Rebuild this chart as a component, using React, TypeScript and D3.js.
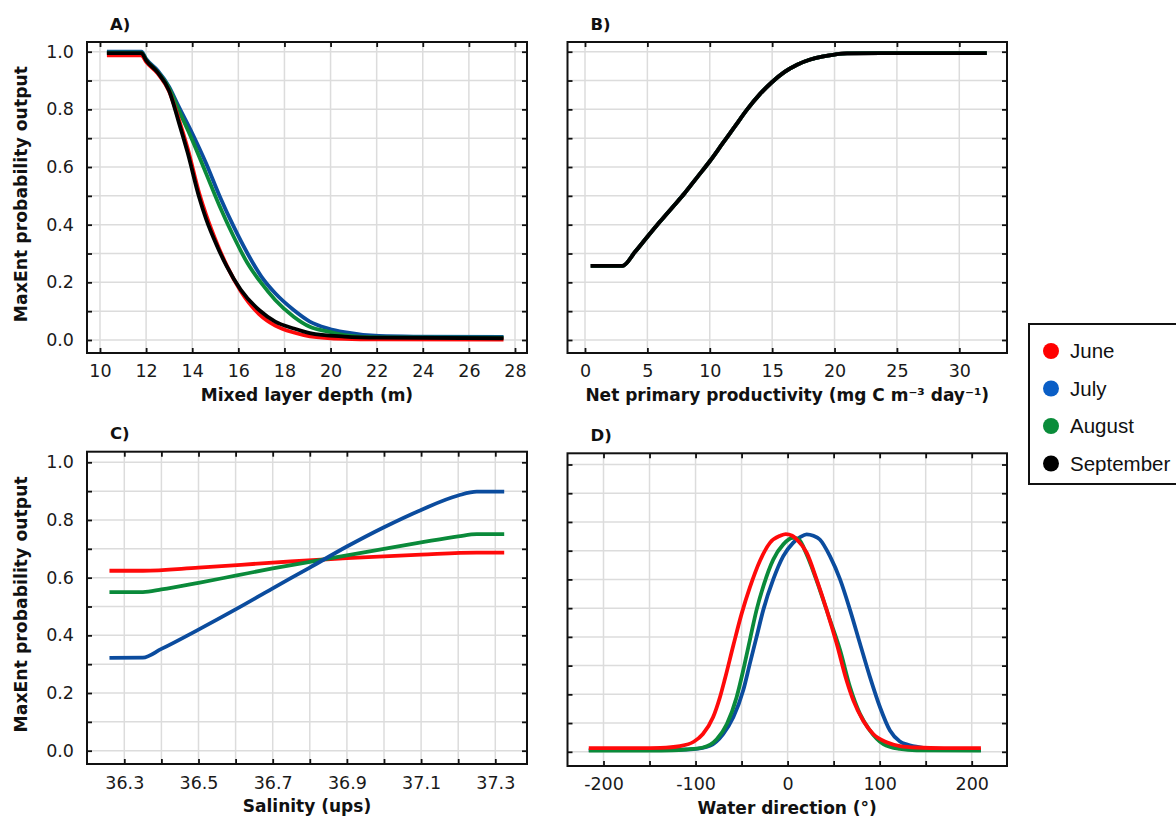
import React, { useEffect, useRef } from 'react'
import * as d3 from 'd3'

const months = ['June', 'July', 'August', 'September']
const lineColors = ['#ff0a0a', '#0b4c9e', '#0a8a3a', '#000000']
const legendColors = ['#ff0000', '#0a5ec6', '#0a8c3a', '#000000']

// A) mixed layer depth (m) -> probability
const mldJune = [[10.3, 0.987], [11.8, 0.987], [12.0, 0.965], [12.5, 0.925], [13.0, 0.862], [13.4, 0.77], [13.8, 0.665], [14.3, 0.51], [14.6, 0.435], [15.1, 0.33], [15.5, 0.258], [16.1, 0.17], [16.9, 0.09], [17.6, 0.05], [18.4, 0.026], [19.1, 0.013], [20.6, 0.004], [22.1, 0.002], [27.5, 0.001]]
const mldJuly = [[10.3, 1.0], [11.8, 1.0], [12.0, 0.975], [12.5, 0.935], [13.0, 0.878], [13.4, 0.812], [14.0, 0.717], [14.6, 0.613], [15.2, 0.497], [15.8, 0.393], [16.4, 0.3], [17.0, 0.22], [17.6, 0.162], [18.4, 0.104], [19.1, 0.064], [19.9, 0.04], [20.6, 0.027], [22.1, 0.014], [23.6, 0.012], [27.5, 0.011]]
const mldAugust = [[10.3, 0.997], [11.8, 0.997], [12.0, 0.972], [12.5, 0.93], [13.0, 0.873], [13.4, 0.8], [14.0, 0.694], [14.6, 0.578], [15.2, 0.462], [15.8, 0.358], [16.4, 0.266], [17.0, 0.197], [17.6, 0.139], [18.4, 0.081], [19.1, 0.046], [19.9, 0.029], [20.6, 0.017], [22.1, 0.009], [27.5, 0.008]]
const mldSeptember = [[10.3, 0.995], [11.8, 0.995], [12.0, 0.97], [12.5, 0.928], [13.0, 0.864], [13.4, 0.76], [13.8, 0.65], [14.3, 0.495], [14.6, 0.42], [15.1, 0.322], [15.5, 0.255], [16.1, 0.175], [16.9, 0.104], [17.6, 0.064], [18.4, 0.04], [19.1, 0.024], [20.6, 0.012], [22.1, 0.008], [27.5, 0.006]]

// B) net primary productivity, the four months lie on top of each other
const nppCurve = [[0.46, 0.257], [3.0, 0.257], [4, 0.305], [5, 0.358], [6, 0.41], [7, 0.46], [8, 0.51], [9, 0.565], [10, 0.62], [11, 0.68], [12, 0.74], [13, 0.8], [14, 0.852], [15, 0.895], [16, 0.93], [17, 0.955], [18, 0.972], [19, 0.983], [20, 0.99], [21, 0.994], [25, 0.995], [32.2, 0.995]]

// C) salinity (ups)
const salJune = [[36.26, 0.624], [36.35, 0.624], [36.5, 0.635], [36.7, 0.652], [36.9, 0.668], [37.1, 0.68], [37.25, 0.687], [37.324, 0.687]]
const salJuly = [[36.26, 0.322], [36.35, 0.323], [36.4, 0.353], [36.5, 0.42], [36.6, 0.49], [36.7, 0.563], [36.8, 0.635], [36.9, 0.708], [37.0, 0.775], [37.1, 0.835], [37.2, 0.885], [37.25, 0.898], [37.324, 0.898]]
const salAugust = [[36.26, 0.55], [36.35, 0.55], [36.4, 0.559], [36.5, 0.582], [36.6, 0.607], [36.7, 0.632], [36.8, 0.655], [36.9, 0.677], [37.0, 0.7], [37.1, 0.722], [37.2, 0.743], [37.25, 0.751], [37.324, 0.751]]

// D) water direction (degrees)
const dirJune = [[-216, 0.013], [-160, 0.013], [-138, 0.014], [-117, 0.02], [-102, 0.035], [-92, 0.062], [-81, 0.12], [-73.5, 0.19], [-68, 0.255], [-59, 0.37], [-50, 0.48], [-41, 0.572], [-30, 0.665], [-19, 0.728], [-8, 0.752], [-2, 0.758], [5, 0.752], [10, 0.739], [20.7, 0.693], [31.5, 0.6], [42.4, 0.494], [53.3, 0.377], [64, 0.249], [71.4, 0.179], [82, 0.109], [93, 0.062], [107.6, 0.033], [122, 0.02], [140, 0.015], [170, 0.013], [210, 0.013]]
const dirJuly = [[-216, 0.006], [-150, 0.006], [-120, 0.007], [-102.5, 0.009], [-84.4, 0.021], [-70, 0.062], [-59, 0.12], [-48.2, 0.214], [-41, 0.307], [-33.7, 0.4], [-26.4, 0.494], [-15.6, 0.6], [-4.7, 0.681], [6.2, 0.728], [14, 0.748], [20.7, 0.757], [28, 0.752], [35, 0.739], [46, 0.681], [57, 0.6], [67.8, 0.494], [78.6, 0.377], [89.5, 0.26], [100.4, 0.155], [111.2, 0.074], [122, 0.036], [130, 0.025], [147, 0.014], [170, 0.008], [210, 0.006]]
const dirAugust = [[-216, 0.004], [-150, 0.004], [-125, 0.005], [-110, 0.008], [-92, 0.015], [-77, 0.044], [-66, 0.097], [-55.4, 0.19], [-48.2, 0.284], [-41, 0.389], [-33.7, 0.494], [-26.4, 0.576], [-15.6, 0.669], [-4.7, 0.722], [6, 0.745], [12, 0.74], [20.7, 0.687], [35, 0.564], [46, 0.459], [57, 0.354], [67.8, 0.225], [78.6, 0.132], [89.5, 0.074], [104, 0.027], [122, 0.01], [140, 0.005], [210, 0.004]]

// ticks and labels
const probTicks = [0, 0.1, 0.2, 0.3, 0.4, 0.5, 0.6, 0.7, 0.8, 0.9, 1.0]
const probLabels = [0, 0.2, 0.4, 0.6, 0.8, 1.0]
const mldTicks = [10, 12, 14, 16, 18, 20, 22, 24, 26, 28]
const nppTicks = [0, 5, 10, 15, 20, 25, 30]
const salTicks = [36.3, 36.4, 36.5, 36.6, 36.7, 36.8, 36.9, 37.0, 37.1, 37.2, 37.3]
const salLabels = [36.3, 36.5, 36.7, 36.9, 37.1, 37.3]
const dirTicks = [-200, -150, -100, -50, 0, 50, 100, 150, 200]
const dirLabels = [-200, -100, 0, 100, 200]

const tickFont = '"DejaVu Sans", sans-serif'
const boldFont = '"DejaVu Sans", sans-serif'

export default function App() {
  const svgRef = useRef(null)

  useEffect(() => {
    const svg = d3.select(svgRef.current)
    svg.selectAll('*').remove()

    const panels = [
      {
        tag: 'A)', left: 87, right: 527, top: 42, bottom: 353,
        xDomain: [10, 28], xRange: [100, 515], yRange: [340, 51.7],
        xTicks: mldTicks, xLabels: mldTicks, xFmt: (d) => String(d), yLabels: true,
        title: 'Mixed layer depth (m)', pad: 11.3,
        series: [[mldJuly, 1], [mldAugust, 2], [mldJune, 0], [mldSeptember, 3]]
      },
      {
        tag: 'B)', left: 567.5, right: 1007, top: 42, bottom: 353,
        xDomain: [0, 30], xRange: [585, 959.3], yRange: [340, 51.7],
        xTicks: nppTicks, xLabels: nppTicks, xFmt: (d) => String(d), yLabels: false,
        title: 'Net primary productivity (mg C m\u207B\u00B3 day\u207B\u00B9)', pad: 11.3,
        series: [[nppCurve, 0], [nppCurve, 1], [nppCurve, 2], [nppCurve, 3]]
      },
      {
        tag: 'C)', left: 87, right: 527, top: 451.7, bottom: 764,
        xDomain: [36.3, 37.3], xRange: [124.3, 495.3], yRange: [750.7, 462.3],
        xTicks: salTicks, xLabels: salLabels, xFmt: d3.format('.1f'), yLabels: true,
        title: 'Salinity (ups)', pad: 12.5,
        series: [[salJune, 0], [salAugust, 2], [salJuly, 1]]
      },
      {
        tag: 'D)', left: 567.5, right: 1007, top: 453.3, bottom: 766,
        xDomain: [-200, 200], xRange: [603.5, 971.7], yRange: [751.8, 464.5],
        xTicks: dirTicks, xLabels: dirLabels, xFmt: (d) => String(d), yLabels: false,
        title: 'Water direction (\u00B0)', pad: 11.5,
        series: [[dirJuly, 1], [dirAugust, 2], [dirJune, 0]]
      }
    ]

    panels.forEach((p) => {
      const g = svg.append('g')
      const x = d3.scaleLinear().domain(p.xDomain).range(p.xRange)
      const y = d3.scaleLinear().domain([0, 1]).range(p.yRange)

      // grid
      g.append('g').selectAll('line').data(p.xTicks).join('line')
        .attr('x1', (d) => x(d)).attr('x2', (d) => x(d))
        .attr('y1', p.top).attr('y2', p.bottom)
        .attr('stroke', '#dcdcdc').attr('stroke-width', 1.5)
      g.append('g').selectAll('line').data(probTicks).join('line')
        .attr('x1', p.left).attr('x2', p.right)
        .attr('y1', (d) => y(d)).attr('y2', (d) => y(d))
        .attr('stroke', '#dcdcdc').attr('stroke-width', 1.5)

      // curves
      const line = d3.line().x((d) => x(d[0])).y((d) => y(d[1])).curve(d3.curveMonotoneX)
      p.series.forEach(([data, ci]) => {
        g.append('path').datum(data)
          .attr('fill', 'none')
          .attr('stroke', lineColors[ci])
          .attr('stroke-width', 3.8)
          .attr('stroke-linejoin', 'round')
          .attr('d', line)
      })

      // frame
      g.append('rect')
        .attr('x', p.left).attr('y', p.top)
        .attr('width', p.right - p.left).attr('height', p.bottom - p.top)
        .attr('fill', 'none').attr('stroke', '#111').attr('stroke-width', 2)

      // axes, ticks point inward on all four sides
      const bottomAxis = g.append('g').attr('transform', `translate(0,${p.bottom})`)
        .call(d3.axisBottom(x).tickValues(p.xTicks).tickSize(-5).tickPadding(p.pad)
          .tickFormat((d) => (p.xLabels.includes(d) ? p.xFmt(d) : '')))
      g.append('g').attr('transform', `translate(0,${p.top})`)
        .call(d3.axisTop(x).tickValues(p.xTicks).tickSize(-5).tickFormat(() => ''))
      const leftAxis = g.append('g').attr('transform', `translate(${p.left},0)`)
        .call(d3.axisLeft(y).tickValues(probTicks).tickSize(-5).tickPadding(13)
          .tickFormat((d) => (p.yLabels && probLabels.some((v) => Math.abs(v - d) < 1e-9) ? d3.format('.1f')(d) : '')))
      g.append('g').attr('transform', `translate(${p.right},0)`)
        .call(d3.axisRight(y).tickValues(probTicks).tickSize(-5).tickFormat(() => ''))

      g.selectAll('.domain').remove()
      g.selectAll('.tick line').attr('stroke', '#111').attr('stroke-width', 1.8)
      ;[bottomAxis, leftAxis].forEach((a) => {
        a.attr('font-family', null).attr('font-size', null)
        a.selectAll('text')
          .attr('font-family', tickFont).attr('font-size', 17.5).attr('fill', '#1a1a1a')
      })

      // axis title
      g.append('text')
        .attr('x', (p.left + p.right) / 2).attr('y', p.bottom + 47.5)
        .attr('text-anchor', 'middle')
        .attr('font-family', boldFont).attr('font-weight', 'bold').attr('font-size', 17)
        .attr('fill', '#111')
        .text(p.title)

      if (p.yLabels) {
        g.append('text')
          .attr('transform', `translate(27,${(p.top + p.bottom) / 2 - 3.5}) rotate(-90)`)
          .attr('text-anchor', 'middle')
          .attr('font-family', boldFont).attr('font-weight', 'bold').attr('font-size', 17.3)
          .attr('fill', '#111')
          .text('MaxEnt probability output')
      }

      // panel tag
      g.append('text')
        .attr('x', p.left + 23).attr('y', p.top - 12.5)
        .attr('font-family', boldFont).attr('font-weight', 'bold').attr('font-size', 16.5)
        .attr('fill', '#111')
        .text(p.tag)
    })

    // legend
    const lg = svg.append('g')
    lg.append('rect')
      .attr('x', 1029).attr('y', 324).attr('width', 170).attr('height', 160)
      .attr('fill', 'white').attr('stroke', '#111').attr('stroke-width', 2)
    const ly = d3.scalePoint().domain(months).range([351, 463.5])
    months.forEach((m, i) => {
      lg.append('circle').attr('cx', 1051).attr('cy', ly(m)).attr('r', 8).attr('fill', legendColors[i])
      lg.append('text')
        .attr('x', 1070).attr('y', ly(m) + 7)
        .attr('font-family', '"Liberation Sans", Arial, sans-serif').attr('font-size', 20.5)
        .attr('fill', '#111')
        .text(m)
    })
  }, [])

  return (
    <div>
      <svg ref={svgRef} width={1176} height={822}
        style={{ position: 'absolute', left: 0, top: 0, background: 'white' }} />
    </div>
  )
}
